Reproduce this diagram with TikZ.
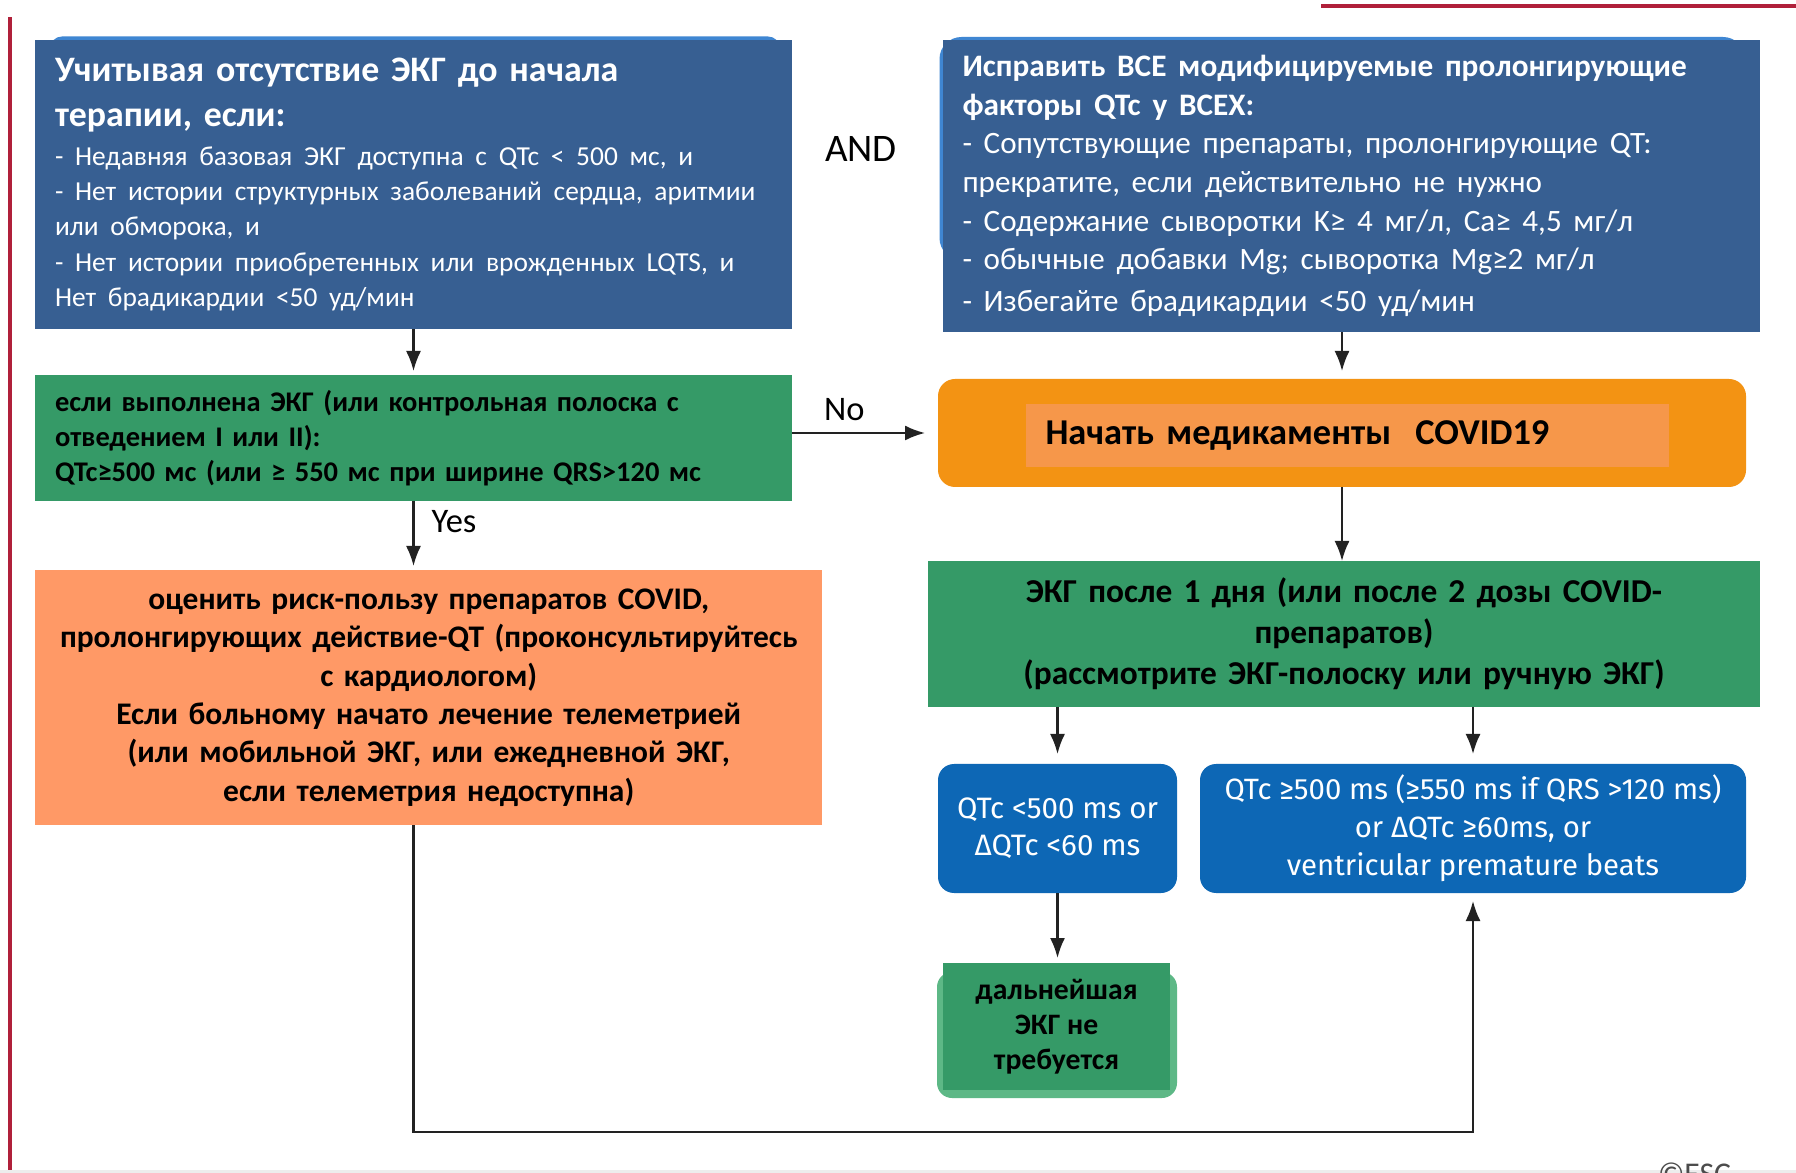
\documentclass[tikz,border=0pt]{standalone}
\usepackage{fontspec}
\setmainfont{Carlito}
\newfontfamily\escfont{Fira Sans}
\usetikzlibrary{arrows.meta,calc}

\definecolor{panelblue}{HTML}{375F92}
\definecolor{edgeblue}{HTML}{3F86D2}
\definecolor{checkgreen}{HTML}{359A67}
\definecolor{softgreen}{HTML}{5DB886}
\definecolor{startorange}{HTML}{F39313}
\definecolor{startinner}{HTML}{F6974A}
\definecolor{riskorange}{HTML}{FF9966}
\definecolor{escblue}{HTML}{0D67B5}
\definecolor{rulered}{HTML}{B0203A}
\definecolor{linegray}{HTML}{222222}

\begin{document}
\lineskiplimit=-100pt
\begin{tikzpicture}[
  every node/.style={inner sep=0pt, outer sep=0pt},
  panel/.style={rectangle, anchor=center, inner xsep=0.195cm},
  escbox/.style={rectangle, rounded corners=0.16cm, fill=escblue, text=white,
    anchor=center, align=center, font=\escfont\fontsize{8.4}{10.5}\selectfont},
  conn/.style={draw=linegray, line width=0.6pt,
    -{Latex[length=0.2cm,width=0.15cm]}},
  tag/.style={text=black, font=\fontsize{9.8}{11}\selectfont}
]
\clip (0,0) rectangle (17.96,-11.73);
\fill[white] (0,0) rectangle (17.96,-11.73);

% page rules
\fill[rulered] (0.08,-0.17) rectangle (0.115,-11.73);
\fill[rulered] (13.21,-0.04) rectangle (17.96,-0.085);
\fill[black!7] (0,-11.70) rectangle (17.96,-11.73);

% blue rims behind the two top panels
\fill[edgeblue, rounded corners=0.12cm] (0.50,-0.365) rectangle (7.80,-1.2);
\fill[edgeblue, rounded corners=0.22cm] (9.395,-0.37) rectangle (17.45,-2.60);

% top-left panel
\node[panel, fill=panelblue, text=white, minimum width=7.56cm,
      minimum height=2.89cm, text width=7.17cm, align=left] (pre) at (4.135,-1.845)
{{\fontsize{10.2}{12.7}\selectfont\bfseries
\mbox{Учитывая отсутствие ЭКГ до начала}\\
\mbox{терапии, если:}\par}\vspace{1.2pt}
{\fontsize{7.8}{10}\selectfont
\mbox{- Недавняя базовая ЭКГ доступна с QTc < 500 мс, и}\\
\mbox{- Нет истории структурных заболеваний сердца, аритмии}\\
\mbox{или обморока, и}\\
\mbox{- Нет истории приобретенных или врожденных LQTS, и}\\
\mbox{Нет брадикардии <50 уд/мин}\par}};

% top-right panel
\node[panel, fill=panelblue, text=white, minimum width=8.17cm,
      minimum height=2.92cm, text width=7.78cm, align=left] (fix) at (13.515,-1.86)
{\fontsize{8.85}{11}\selectfont
{\bfseries\fontsize{8.9}{11}\selectfont\mbox{Исправить ВСЕ модифицируемые пролонгирующие}\\
\mbox{факторы QTc у ВСЕХ:}}\\
\mbox{- Сопутствующие препараты, пролонгирующие QT:}\\
\mbox{прекратите, если действительно не нужно}\\
\mbox{- Содержание сыворотки K≥ 4 мг/л, Ca≥ 4,5 мг/л}\\
\mbox{- обычные добавки Mg; сыворотка Mg≥2 мг/л}\\
\mbox{- Избегайте брадикардии <50 уд/мин}};

\node[text=black, font=\fontsize{11.1}{12}\selectfont] (and) at (8.61,-1.49) {AND};

% QTc check without a baseline ECG
\node[panel, fill=checkgreen, text=black, minimum width=7.56cm,
      minimum height=1.26cm, text width=7.17cm, align=left,
      font=\bfseries\fontsize{8.1}{10}\selectfont] (cond) at (4.135,-4.38)
{\mbox{если выполнена ЭКГ (или контрольная полоска с}\\
\mbox{отведением I или II):}\\
\mbox{QTc≥500 мс (или ≥ 550 мс при ширине QRS>120 мс}};

% start of treatment
\node[rectangle, rounded corners=0.17cm, fill=startorange, minimum width=8.08cm,
      minimum height=1.08cm, anchor=center] (start) at (13.42,-4.33) {};
\node[panel, fill=startinner, text=black, minimum width=6.43cm,
      minimum height=0.63cm, text width=6.04cm, align=left,
      font=\bfseries\fontsize{10.35}{11}\selectfont] (startlbl) at (13.475,-4.355)
{Начать медикаменты\ \ COVID19};

% risk assessment
\node[panel, fill=riskorange, text=black, minimum width=7.865cm,
      minimum height=2.55cm, text width=7.475cm, align=center,
      font=\bfseries\fontsize{8.95}{10.9}\selectfont] (risk) at (4.2875,-6.975)
{оценить риск-пользу препаратов COVID,\\
\mbox{пролонгирующих действие-QT (проконсультируйтесь}\\
с кардиологом)\\
Если больному начато лечение телеметрией\\
(или мобильной ЭКГ, или ежедневной ЭКГ,\\
если телеметрия недоступна)};

% follow-up ECG
\node[panel, fill=checkgreen, text=black, minimum width=8.32cm,
      minimum height=1.46cm, text width=7.93cm, align=center,
      font=\bfseries\fontsize{9.5}{11.7}\selectfont] (follow) at (13.44,-6.34)
{ЭКГ после 1 дня (или после 2 дозы COVID-\\
препаратов)\\
\mbox{(рассмотрите ЭКГ-полоску или ручную ЭКГ)}};

% outcomes
\node[escbox, minimum width=2.39cm, minimum height=1.29cm] (ok) at (10.575,-8.285)
{QTc <500 ms or\\ ΔQTc <60 ms};
\node[escbox, minimum width=5.46cm, minimum height=1.29cm,
      font=\escfont\fontsize{8.35}{10.75}\selectfont] (long) at (14.73,-8.285)
{QTc ≥500 ms (≥550 ms if QRS >120 ms)\\ or ΔQTc ≥60ms, or\\ ventricular premature beats};

\fill[softgreen, rounded corners=0.15cm] (9.37,-9.72) rectangle (11.77,-10.98);
\node[panel, fill=checkgreen, text=black, minimum width=2.27cm,
      minimum height=1.27cm, align=center,
      font=\bfseries\fontsize{8.45}{10}\selectfont] (done) at (10.565,-10.265)
{дальнейшая\\ ЭКГ не\\ требуется};

\node[anchor=north west, text=black!70, font=\fontsize{9}{10}\selectfont] (esc) at (16.58,-11.63) {©ESC};

% connectors
\draw[conn, shorten >=0.04cm] (pre.south) -- (cond.north);
\draw[conn, shorten >=0.08cm] (start.north |- fix.south) -- (start.north);
\draw[conn, shorten >=0.13cm] (start.west -| cond.east) -- (start.west)
  node[tag, pos=0.36, above=0.12cm] (no) {No};
\draw[conn, shorten >=0.04cm] (cond.south) -- (risk.north -| cond.south)
  node[tag, pos=0.3, right=0.18cm] (yes) {Yes};
\draw[conn] (start.south) -- (follow.north -| start.south);
\draw[conn, shorten >=0.1cm] (follow.south -| ok.north) -- (ok.north);
\draw[conn, shorten >=0.1cm] (follow.south -| long.north) -- (long.north);
\draw[conn, shorten >=0.05cm] (ok.south) -- (done.north -| ok.south);
\coordinate (turn) at (4.135,-11.317);
\draw[conn, shorten >=0.08cm] (turn |- risk.south) -- (turn) -| (long.south);
\end{tikzpicture}
\end{document}
